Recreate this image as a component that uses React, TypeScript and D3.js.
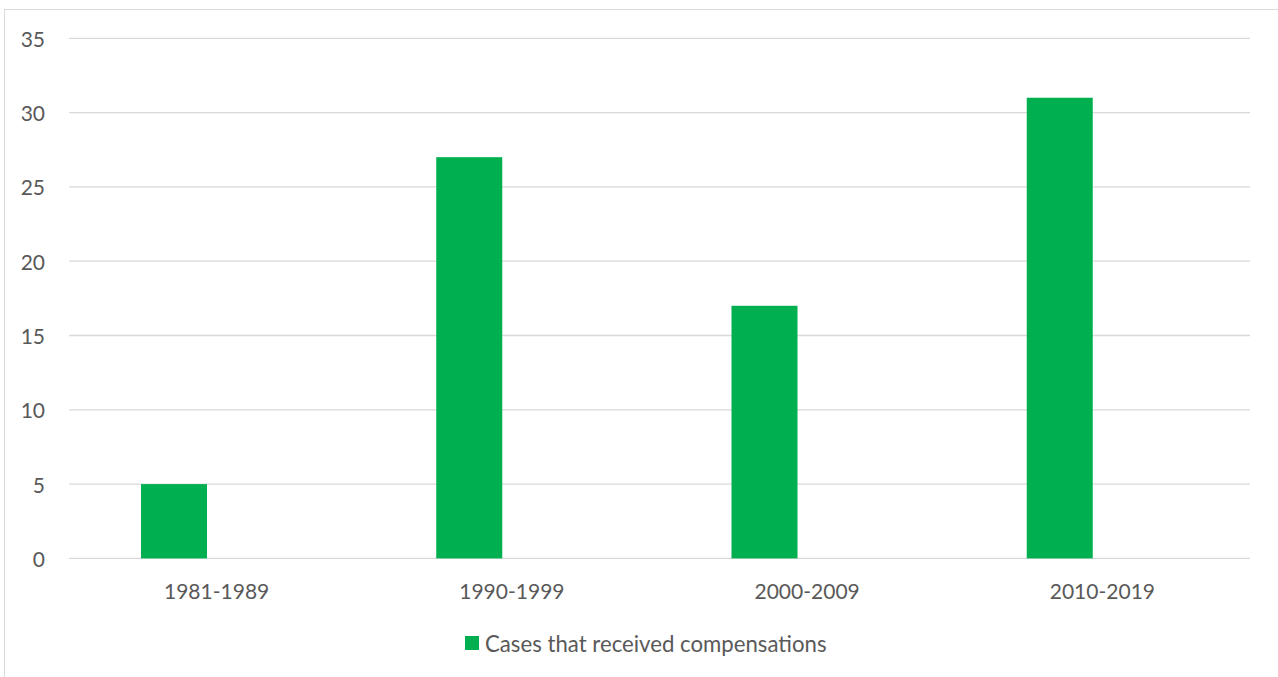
import React from "react";
import * as d3 from "d3";

// Decades on the category axis and the number of cases for each
const categories = ["1981-1989", "1990-1999", "2000-2009", "2010-2019"];
const compensatedCases = [5, 27, 17, 31];
const yTicks = [0, 5, 10, 15, 20, 25, 30, 35];
const seriesName = "Cases that received compensations";

const W = 1278;
const H = 677;
const plot = { left: 69, right: 1250, top: 38.3, bottom: 558.4 };
const FONT = "Lato, 'Open Sans', sans-serif";
const TEXT = "#595959";
const GRID = "#D9D9D9";
const GREEN = "#00B050";

export default function App() {
  const x = d3
    .scaleBand<string>()
    .domain(categories)
    .range([plot.left, plot.right])
    .paddingInner(0)
    .paddingOuter(0);

  // Bar slot inside each category band (clustered layout with one filled slot)
  const slot = d3
    .scaleBand<string>()
    .domain(["cases", "empty"])
    .range([0, x.bandwidth()])
    .paddingInner(0.2258)
    .paddingOuter(0.8446);

  const y = d3.scaleLinear().domain([0, 35]).range([plot.bottom, plot.top]);

  return (
    <svg
      width={W}
      height={H}
      style={{ position: "absolute", left: 0, top: 0, background: "#fff" }}
      fontFamily={FONT}
    >
      {/* chart area frame */}
      <rect x={4.5} y={9.5} width={W + 10} height={H + 10} fill="#fff" stroke={GRID} strokeWidth={1} />

      {/* horizontal gridlines */}
      {yTicks.map((t) => (
        <line
          key={t}
          x1={plot.left}
          x2={plot.right}
          y1={y(t)}
          y2={y(t)}
          stroke={GRID}
          strokeWidth={1.3}
        />
      ))}

      {/* y tick labels */}
      {yTicks.map((t) => (
        <text
          key={"l" + t}
          x={45}
          y={y(t)}
          textAnchor="end"
          dominantBaseline="central"
          fontSize={21}
          fill={TEXT}
        >
          {t}
        </text>
      ))}

      {/* bars */}
      {categories.map((c, i) => (
        <rect
          key={c}
          x={(x(c) as number) + (slot("cases") as number)}
          y={y(compensatedCases[i])}
          width={slot.bandwidth()}
          height={y(0) - y(compensatedCases[i])}
          fill={GREEN}
        />
      ))}

      {/* category labels */}
      {categories.map((c) => (
        <text
          key={"c" + c}
          x={(x(c) as number) + x.bandwidth() / 2}
          y={590}
          textAnchor="middle"
          dominantBaseline="central"
          fontSize={21}
          fill={TEXT}
        >
          {c}
        </text>
      ))}

      {/* legend */}
      <rect x={465} y={636} width={14} height={14} fill={GREEN} />
      <text x={485} y={643} dominantBaseline="central" fontSize={22.2} fill={TEXT}>
        {seriesName}
      </text>
    </svg>
  );
}
